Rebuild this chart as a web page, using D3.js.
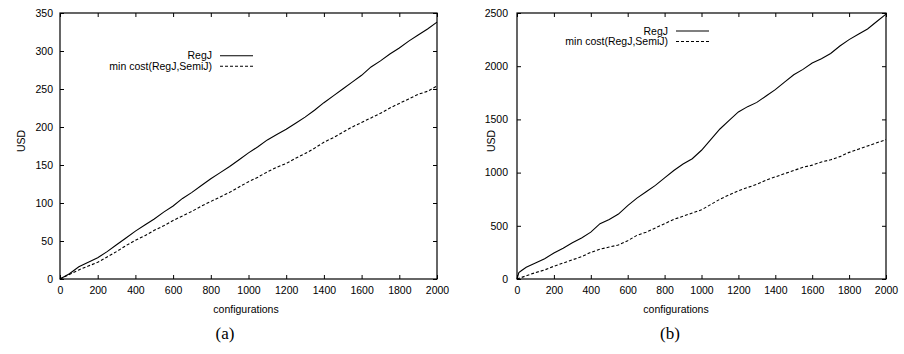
<!DOCTYPE html>
<html>
<head>
<meta charset="utf-8">
<script src="https://cdn.jsdelivr.net/npm/d3@7"></script>
<style>
  body { margin: 0; background: #fff; }
  svg { display: block; }
  text { font-family: "Liberation Sans", Arial, sans-serif; fill: #000; }
</style>
</head>
<body>
<script>
// x positions (configurations)
const configsA = d3.range(0, 2001, 50);
const configsB = [0, 10, 25, ...d3.range(50, 2001, 50)];

// panel (a)
const regA = [0, 7, 16, 22, 28, 36, 45, 54, 63, 71, 79, 88, 96, 106, 114, 123, 132, 140, 148, 157,
  166, 174, 183, 190, 197, 205, 213, 222, 232, 241, 250, 259, 268, 279, 287, 296, 304, 313, 321, 329, 338];
const minA = [0, 6, 12, 17, 22, 29, 36, 44, 51, 57, 64, 70, 77, 83, 89, 96, 102, 108, 114, 121,
  128, 134, 141, 147, 152, 159, 165, 172, 180, 186, 193, 200, 206, 212, 218, 225, 231, 237, 243, 247, 254];

// panel (b)
const regB = [0, 60, 80, 110, 150, 190, 245, 290, 340, 385, 440, 520, 560, 610, 690, 760, 820, 880, 950,
  1020, 1080, 1130, 1210, 1310, 1410, 1490, 1570, 1620, 1660, 1720, 1780, 1850, 1920, 1970, 2030, 2070,
  2120, 2190, 2250, 2300, 2350, 2420, 2490];
const minB = [0, 6, 15, 30, 60, 85, 120, 150, 180, 210, 250, 280, 300, 320, 360, 410, 440, 480, 520, 560,
  590, 620, 650, 700, 750, 790, 830, 860, 890, 930, 960, 990, 1020, 1050, 1070, 1100, 1120, 1150, 1190,
  1220, 1250, 1280, 1310];

const xTicks = d3.range(0, 2001, 200);
const yTicksA = [0, 50, 100, 150, 200, 250, 300, 350];
const yTicksB = [0, 500, 1000, 1500, 2000, 2500];
const seriesNames = ['RegJ', 'min cost(RegJ,SemiJ)'];

const svg = d3.select(document.body).append('svg')
  .attr('width', 904).attr('height', 354);

drawPanel({
  left: 60, right: 437, top: 13, bottom: 279,
  xs: configsA, series: [regA, minA], yMax: 350, yTicks: yTicksA, yPad: 7,
  legendX: 212, legendY: 55.7, usdX: 21, xlabelX: 246, caption: '(a)', captionX: 225
});
drawPanel({
  left: 517, right: 886, top: 13, bottom: 279,
  xs: configsB, series: [regB, minB], yMax: 2500, yTicks: yTicksB, yPad: 9,
  legendX: 668, legendY: 31, usdX: 491, xlabelX: 676, caption: '(b)', captionX: 670
});

function drawPanel(p){
  const x = d3.scaleLinear().domain([0, 2000]).range([p.left, p.right]);
  const y = d3.scaleLinear().domain([0, p.yMax]).range([p.bottom, p.top]);
  const g = svg.append('g');
  const fmt = d3.format('d');

  const ax = (axis, tx, ty, labels) => {
    const a = g.append('g').attr('transform', `translate(${tx},${ty})`).call(axis);
    a.select('.domain').remove();
    a.selectAll('line').attr('stroke', '#000');
    a.selectAll('text').style('font-size', '10.5px').attr('fill', '#000');
    if (!labels) a.selectAll('text').remove();
    return a;
  };
  ax(d3.axisBottom(x).tickValues(xTicks).tickFormat(fmt).tickSize(-4).tickPadding(8), 0, p.bottom, true);
  ax(d3.axisTop(x).tickValues(xTicks).tickSize(-4), 0, p.top, false);
  ax(d3.axisLeft(y).tickValues(p.yTicks).tickFormat(fmt).tickSize(-4).tickPadding(p.yPad), p.left, 0, true);
  ax(d3.axisRight(y).tickValues(p.yTicks).tickSize(-4), p.right, 0, false);

  g.append('rect')
    .attr('x', p.left).attr('y', p.top)
    .attr('width', p.right - p.left).attr('height', p.bottom - p.top)
    .attr('fill', 'none').attr('stroke', '#000').attr('stroke-width', 1.2);

  const line = d3.line().x(d => x(d[0])).y(d => y(d[1]));
  p.series.forEach((vals, i) => {
    g.append('path')
      .datum(p.xs.map((c, j) => [c, vals[j]]))
      .attr('d', line)
      .attr('fill', 'none').attr('stroke', '#000').attr('stroke-width', 1.1)
      .attr('stroke-dasharray', i === 1 ? '3,2' : null);
  });

  // legend
  seriesNames.forEach((name, i) => {
    const yy = p.legendY + i * 10.5;
    g.append('text').attr('x', p.legendX).attr('y', yy).attr('dy', '0.35em')
      .attr('text-anchor', 'end').style('font-size', '10.5px').text(name);
    g.append('line').attr('x1', p.legendX + 8).attr('x2', p.legendX + 41)
      .attr('y1', yy).attr('y2', yy)
      .attr('stroke', '#000').attr('stroke-width', 1.1)
      .attr('stroke-dasharray', i === 1 ? '3,2' : null);
  });

  g.append('text').attr('transform', `translate(${p.usdX},141) rotate(-90)`)
    .attr('text-anchor', 'middle').attr('dy', '0.35em')
    .style('font-size', '10.5px').text('USD');
  g.append('text').attr('x', p.xlabelX).attr('y', 309).attr('dy', '0.35em')
    .attr('text-anchor', 'middle').style('font-size', '10.5px').text('configurations');
  g.append('text').attr('x', p.captionX).attr('y', 339)
    .attr('text-anchor', 'middle')
    .style('font-family', '"Liberation Serif", "Times New Roman", serif')
    .style('font-size', '17px').text(p.caption);
}
</script>
</body>
</html>
